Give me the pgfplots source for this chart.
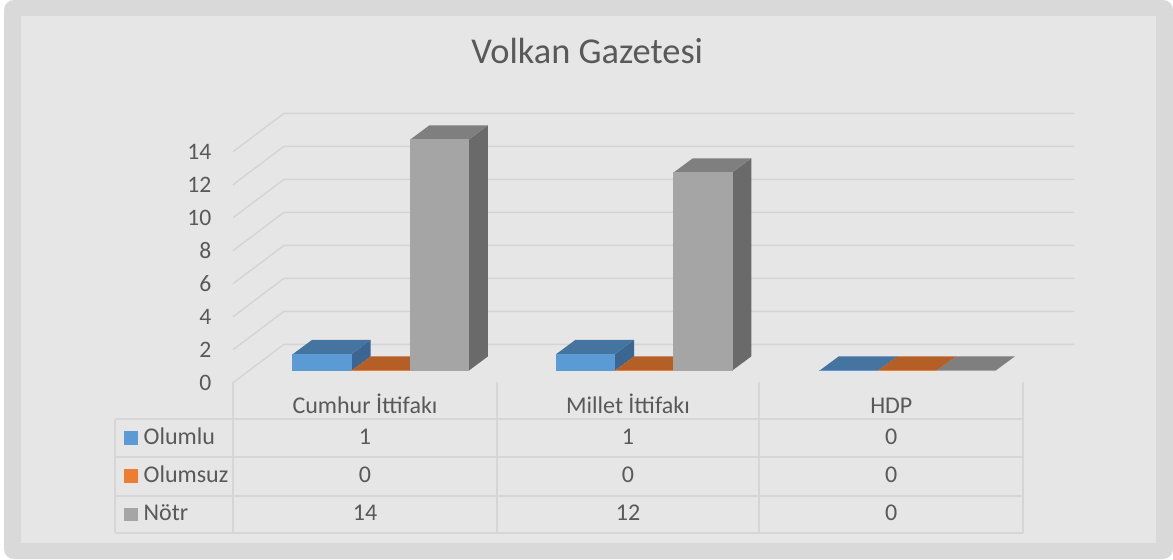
\documentclass[border=0pt]{standalone}
\usepackage{pgfplots}
\pgfplotsset{compat=1.18}
\usepackage{pgfplotstable}
\usepackage{fontspec}
\setmainfont{Carlito}

\definecolor{framec}{HTML}{D9D9D9}
\definecolor{innerc}{HTML}{E6E6E6}
\definecolor{gridc}{HTML}{D4D4D4}
\definecolor{linec}{HTML}{D6D6D6}
\definecolor{textc}{HTML}{595959}
\definecolor{blfront}{HTML}{5B9BD5}
\definecolor{bltop}{HTML}{4574A1}
\definecolor{blside}{HTML}{3B6691}
\definecolor{orfront}{HTML}{ED7D31}
\definecolor{ortop}{HTML}{B55F27}
\definecolor{orside}{HTML}{A0531F}
\definecolor{grfront}{HTML}{A5A5A5}
\definecolor{grtop}{HTML}{7F7F7F}
\definecolor{grside}{HTML}{6A6A6A}

% values: Olumlu, Olumsuz, Nötr per category
\pgfplotstableread{
c olumlu olumsuz notr
0 1 0 14
1 1 0 12
2 0 0 0
}\data

% 3D bar: #1 category, #2 series index, #3 value, #4 colour prefix
\newcommand\drawbar[4]{%
  \pgfmathsetmacro\xa{#1-0.334+0.2227*#2+0.0608}%
  \pgfmathsetmacro\xb{\xa+0.2227}%
  \pgfmathsetmacro\xc{\xa+0.0733}%
  \pgfmathsetmacro\xd{\xb+0.0733}%
  \pgfmathsetmacro\ya{0.727}%
  \pgfmathsetmacro\yt{0.727+#3}%
  \pgfmathsetmacro\yb{\ya+0.867}%
  \pgfmathsetmacro\ytb{\yt+0.867}%
  \edef\tmp{%
    \noexpand\addplot[fill=#4side,draw=none,forget plot] coordinates {(\xb,\ya) (\xd,\yb) (\xd,\ytb) (\xb,\yt)} --cycle;
    \noexpand\addplot[fill=#4top,draw=none,forget plot] coordinates {(\xa,\yt) (\xb,\yt) (\xd,\ytb) (\xc,\ytb)} --cycle;
    \noexpand\addplot[fill=#4front,draw=#4front,line width=0.3pt,forget plot] coordinates {(\xa,\ya) (\xb,\ya) (\xb,\yt) (\xa,\yt)} --cycle;
  }\tmp
}

\begin{document}
\begin{tikzpicture}
% background frame (pixel coordinates)
\begin{scope}[x=0.5pt,y=-0.5pt]
  \fill[white] (0,0) rectangle (1173,559);
  \fill[framec, rounded corners=5pt] (4,0) rectangle (1173,559);
  \fill[innerc] (20.7,15.7) rectangle (1155.5,543.3);
  \node[anchor=base, text=textc, font=\fontsize{18.2}{22}\selectfont, inner sep=0pt] at (587.2,63.3) {Volkan Gazetesi};
\end{scope}

\begin{axis}[
  at={(116.5pt,-191.35pt)}, anchor=south west,
  scale only axis, width=395pt, height=115.5pt,
  xmin=-0.5, xmax=2.5, ymin=0, ymax=14,
  clip=false,
  axis line style={draw=none},
  tick style={draw=none},
  xtick=\empty,
  ytick={0,2,...,14},
  /pgf/number format/assume math mode=true,
  yticklabel style={font=\fontsize{11.8}{14}\selectfont, text=textc, anchor=east, inner sep=0pt, xshift=-10.65pt},
]
  % perspective gridlines
  \pgfplotsforeachungrouped \g in {0,2,...,14}{%
    \pgfmathsetmacro\gt{\g+2.327}%
    \edef\tmp{\noexpand\addplot[gridc, line width=0.7pt, forget plot] coordinates {(-0.5,\g) (-0.3063,\gt) (2.6937,\gt)};}\tmp
  }
  % bars
  \pgfplotsforeachungrouped \r in {0,1,2}{%
    \pgfplotstablegetelem{\r}{olumlu}\of\data \let\va\pgfplotsretval
    \drawbar{\r}{0}{\va}{bl}%
    \pgfplotstablegetelem{\r}{olumsuz}\of\data \let\vb\pgfplotsretval
    \drawbar{\r}{1}{\vb}{or}%
    \pgfplotstablegetelem{\r}{notr}\of\data \let\vc\pgfplotsretval
    \drawbar{\r}{2}{\vc}{gr}%
  }
\end{axis}

% data table (pixel coordinates)
\begin{scope}[x=0.5pt,y=-0.5pt]
  \foreach \xx in {233.3,496.7,759.3,1023}{\draw[linec, line width=1pt] (\xx,381.7) -- (\xx,533.3);}
  \draw[linec, line width=1pt] (115,419) -- (115,533.3);
  \foreach \yy in {419,457.3,495.7,533.3}{\draw[linec, line width=1pt] (115,\yy) -- (1023,\yy);}
  \begin{scope}[every node/.style={text=textc, font=\fontsize{12}{14}\selectfont, inner sep=0pt}]
    \node[anchor=base] at (365,413.3) {Cumhur İttifakı};
    \node[anchor=base] at (628,413.3) {Millet İttifakı};
    \node[anchor=base] at (891.3,413.3) {HDP};
    \fill[blfront] (124,431) rectangle (137.7,444.7);
    \fill[orfront] (124,469.3) rectangle (137.7,483);
    \fill[grfront] (124,507.6) rectangle (137.7,521.3);
    \node[anchor=base west] at (143.3,444) {Olumlu};
    \node[anchor=base west] at (143.3,482.3) {Olumsuz};
    \node[anchor=base west] at (143.3,520.6) {Nötr};
    \foreach \r/\cx in {0/365,1/628,2/891.3}{%
      \pgfplotstablegetelem{\r}{olumlu}\of\data
      \node[anchor=base] at (\cx,444) {\pgfplotsretval};
      \pgfplotstablegetelem{\r}{olumsuz}\of\data
      \node[anchor=base] at (\cx,482.3) {\pgfplotsretval};
      \pgfplotstablegetelem{\r}{notr}\of\data
      \node[anchor=base] at (\cx,520.6) {\pgfplotsretval};
    }
  \end{scope}
\end{scope}
\end{tikzpicture}
\end{document}
